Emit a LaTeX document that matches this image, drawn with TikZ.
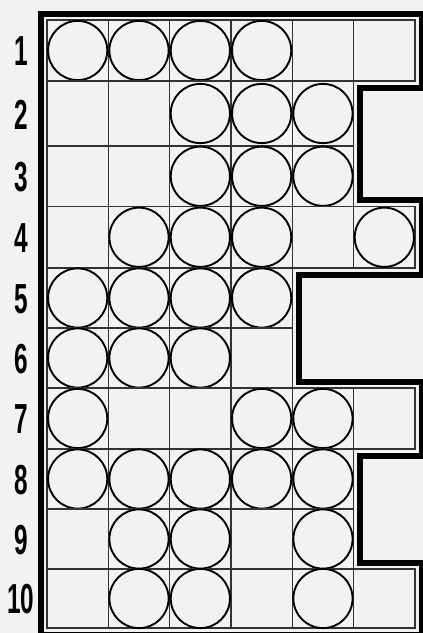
\documentclass[tikz,border=0pt]{standalone}
\usepackage{fontspec}
\setmainfont{Liberation Sans}
\begin{document}
\begin{tikzpicture}[x=1pt,y=-1pt,
  cellbox/.style={draw=black!80,line width=1.3pt},
  ball/.style={draw=black,line width=1.9pt},
  rim/.style={draw=black,line width=6pt,line join=miter},
  rowlab/.style={font=\bfseries\fontsize{42}{42}\selectfont,xscale=0.58,inner sep=0pt}]
\useasboundingbox (0,0) rectangle (423,633);
\clip (0,0) rectangle (423,633);
\fill[black!5] (0,0) rectangle (423,633);
\foreach \r/\t/\b/\n/\cs in {
  1/20/81/6/{1,2,3,4},
  2/81/146/5/{3,4,5},
  3/146/206.5/5/{3,4,5},
  4/206.5/268/6/{2,3,4,6},
  5/268/328/4/{1,2,3,4},
  6/328/388/4/{1,2,3},
  7/388/449/6/{1,4,5},
  8/449/509/5/{1,2,3,4,5},
  9/509/569/5/{2,3,5},
  10/569/628/6/{2,3,5}}{
  \foreach \c in {1,...,\n}
    \draw[cellbox] ({47+61.33*(\c-1)},\t) rectangle ({47+61.33*\c},\b);
  \foreach \c in \cs
    \draw[ball] ({47+61.33*(\c-0.5)},{(\t+\b)/2}) circle[radius=29.6];
  \node[rowlab] (lab\r) at (21,{(\t+\b)/2+1}) {\r};
}
\draw[rim] (40.5,13.5) -- (421.5,13.5) -- (421.5,87.5) -- (360.2,87.5)
  -- (360.2,200) -- (421.5,200) -- (421.5,274.5) -- (298.8,274.5)
  -- (298.8,381.5) -- (421.5,381.5) -- (421.5,455.5) -- (360.2,455.5)
  -- (360.2,562.5) -- (421.5,562.5) -- (421.5,634.5) -- (40.5,634.5) -- cycle;
\end{tikzpicture}
\end{document}
